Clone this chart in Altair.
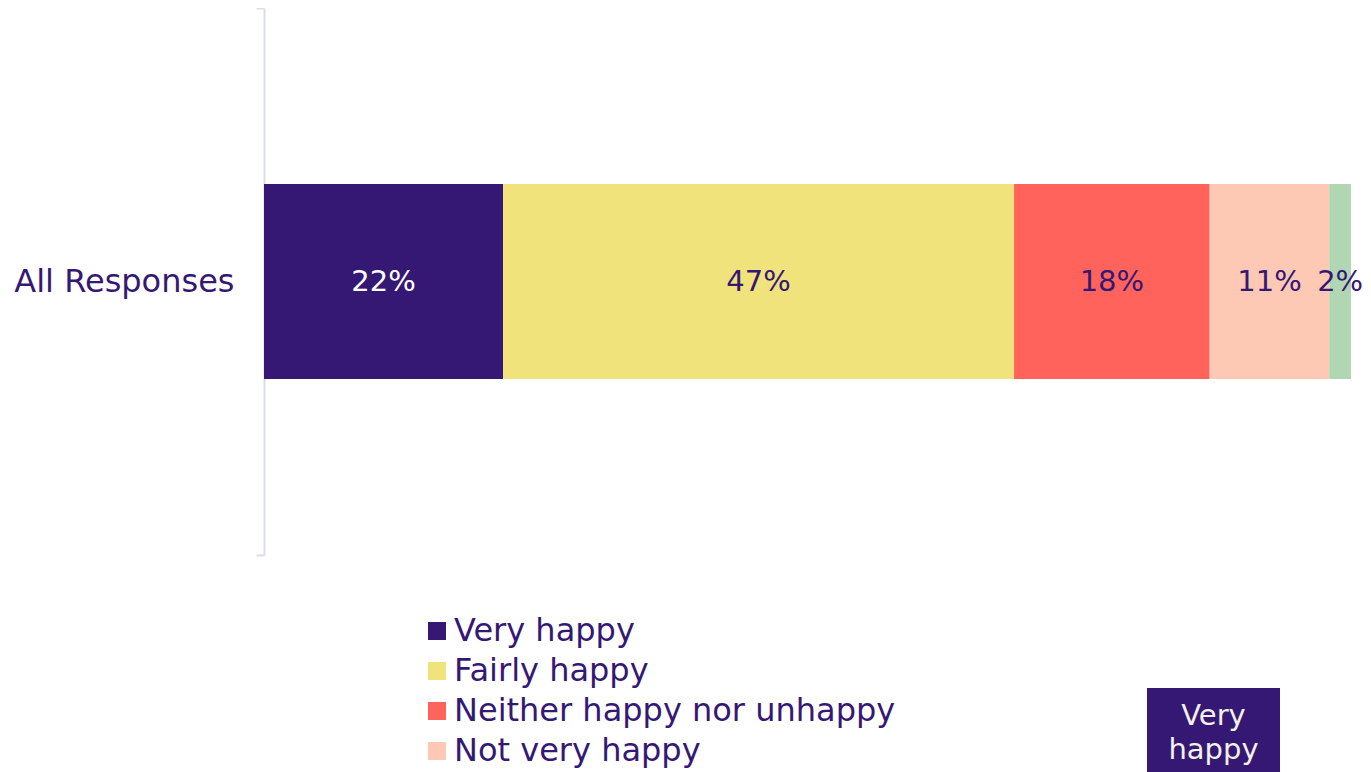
import altair as alt
import pandas as pd

groups = ["All Responses"]
categories = ["Very happy", "Fairly happy", "Neither happy nor unhappy", "Not very happy", "Not at all happy"]
values = [22, 47, 18, 11, 2]
colors = ["#351874", "#f0e37b", "#ff635c", "#fdc8b4", "#b1d6b3"]
text_col = "#351874"
font = "DejaVu Sans"

df = pd.DataFrame({
    "group": groups * len(categories),
    "cat": categories,
    "value": values,
    "order": list(range(len(categories))),
})

base = alt.Chart(df)

bars = base.mark_bar(size=195).encode(
    y=alt.Y("group:N", title=None,
            scale=alt.Scale(paddingInner=0, paddingOuter=0),
            axis=alt.Axis(domainColor="#d8dde6", domainWidth=2, tickColor="#d8dde6",
                          tickWidth=2, tickSize=8, tickBand="extent",
                          labelFontSize=32, labelFont=font, labelColor=text_col,
                          labelPadding=22, labelLimit=400)),
    x=alt.X("value:Q", stack="zero", axis=None,
            scale=alt.Scale(domain=[0, 100], nice=False)),
    color=alt.Color("cat:N", scale=alt.Scale(domain=categories, range=colors),
                    sort=categories, title=None,
                    legend=alt.Legend(orient="none", legendX=157, legendY=607,
                                      direction="vertical", symbolType="square",
                                      symbolSize=324, symbolStrokeWidth=0,
                                      labelFontSize=32, labelFont=font,
                                      labelColor=text_col, rowPadding=8,
                                      labelOffset=1,
                                      padding=0, labelLimit=600, symbolOpacity=1)),
    order=alt.Order("order:Q"),
)

labels = base.transform_stack(
    stack="value", groupby=["group"], as_=["x0", "x1"],
    sort=[alt.SortField("order", order="ascending")],
).transform_calculate(
    mid="(datum.x0 + datum.x1) / 2",
    lab="datum.value + '%'",
).mark_text(fontSize=29, font=font).encode(
    y=alt.Y("group:N"),
    x=alt.X("mid:Q"),
    text="lab:N",
    color=alt.condition("datum.cat == 'Very happy'", alt.value("white"), alt.value(text_col)),
)

tip_box = alt.Chart(pd.DataFrame({"t": ["Very happy"]})).mark_rect(
    color="#351874", clip=False).encode(
    x=alt.value(883), x2=alt.value(1016), y=alt.value(680), y2=alt.value(780))
tip_text = alt.Chart(pd.DataFrame({"t": ["Very happy"]})).mark_text(
    color="#f4f0ea", fontSize=29, font=font, lineHeight=34, baseline="middle",
    lineBreak=" ").encode(
    x=alt.value(949.5), y=alt.value(708), text="t:N")

chart = alt.layer(bars, labels, tip_box, tip_text).properties(
    width=1087, height=547,
    autosize=alt.AutoSizeParams(type="none"),
    padding={"left": 256, "top": 0, "right": 12, "bottom": 217},
).configure_view(stroke=None)

chart.save("out.html", embed_options={"renderer": "svg", "actions": False})
